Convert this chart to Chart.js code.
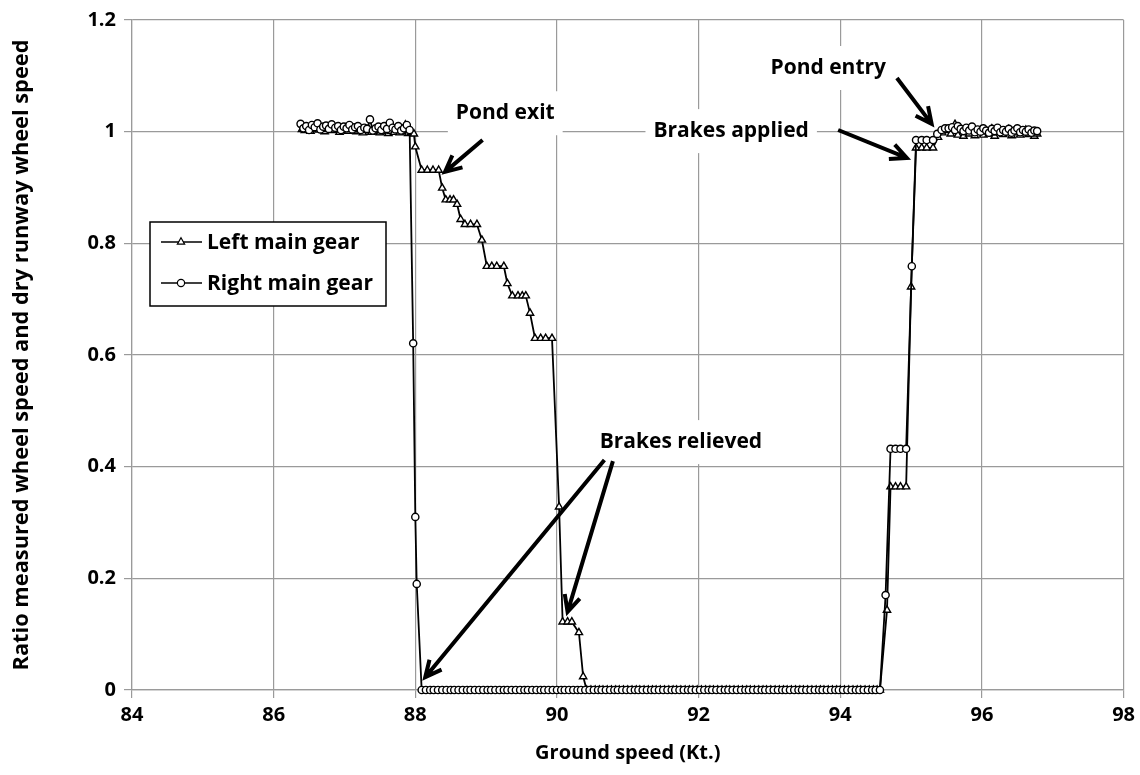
<!DOCTYPE html>
<html>
<head>
<meta charset="utf-8">
<script src="https://cdn.jsdelivr.net/npm/chart.js@4.4.1/dist/chart.umd.min.js"></script>
<style>
  html, body { margin: 0; padding: 0; background: #fff; }
</style>
</head>
<body>
<canvas id="myChart" width="1140" height="775"></canvas>
<script>
// ground speed (Kt.) and wheel speed ratio
const leftSpeed = [
  86.40, 86.44, 86.48, 86.52, 86.56, 86.60, 86.64, 86.68, 86.72, 86.76,
  86.80, 86.85, 86.89, 86.93, 86.97, 87.01, 87.05, 87.09, 87.13, 87.17,
  87.21, 87.26, 87.30, 87.34, 87.38, 87.42, 87.46, 87.50, 87.54, 87.58,
  87.62, 87.66, 87.70, 87.74, 87.78, 87.82, 87.86, 87.90, 87.94, 87.98,
  88.00, 88.09, 88.17, 88.25, 88.33, 88.38, 88.43, 88.49, 88.54, 88.59,
  88.64, 88.70, 88.78, 88.87, 88.94, 89.01, 89.08, 89.15, 89.25, 89.30,
  89.37, 89.45, 89.51, 89.56, 89.62, 89.69, 89.77, 89.84, 89.93, 90.03,
  90.08, 90.15, 90.21, 90.31, 90.37,
  90.42, 90.48, 90.54, 90.60, 90.65, 90.71, 90.77, 90.83, 90.88, 90.94,
  91.00, 91.06, 91.12, 91.17, 91.23, 91.29, 91.35, 91.40, 91.46, 91.52,
  91.58, 91.64, 91.69, 91.75, 91.81, 91.87, 91.92, 91.98, 92.04, 92.10,
  92.16, 92.21, 92.27, 92.33, 92.39, 92.44, 92.50, 92.56, 92.62, 92.68,
  92.73, 92.79, 92.85, 92.91, 92.96, 93.02, 93.08, 93.14, 93.20, 93.25,
  93.31, 93.37, 93.43, 93.48, 93.54, 93.60, 93.66, 93.72, 93.77, 93.83,
  93.89, 93.95, 94.00, 94.06, 94.12, 94.18, 94.24, 94.29, 94.35, 94.41,
  94.47, 94.52, 94.56,
  94.66, 94.71, 94.78, 94.85, 94.93, 95.00, 95.07, 95.15, 95.22, 95.31,
  95.38, 95.44, 95.50, 95.56, 95.62, 95.66, 95.70, 95.74, 95.78, 95.82,
  95.86, 95.90, 95.94, 95.98, 96.02, 96.06, 96.10, 96.14, 96.18, 96.22,
  96.26, 96.30, 96.34, 96.38, 96.42, 96.46, 96.50, 96.54, 96.58, 96.62,
  96.66, 96.70, 96.74, 96.78
];
const leftRatio = [
  1.004, 1.002, 1.007, 1.001, 1.005, 1.009, 1.003, 1.006, 1.000, 1.004,
  1.008, 1.002, 1.005, 0.999, 1.003, 1.007, 1.001, 1.004, 1.006, 1.000,
  1.003, 0.998, 1.002, 1.005, 0.999, 1.001, 1.004, 0.998, 1.000, 1.003,
  0.997, 1.001, 0.999, 1.004, 0.998, 1.000, 1.012, 0.997, 0.999, 0.996,
  0.973, 0.931, 0.931, 0.931, 0.931, 0.899, 0.878, 0.878, 0.878, 0.870,
  0.843, 0.834, 0.834, 0.834, 0.806, 0.759, 0.759, 0.759, 0.759, 0.728,
  0.706, 0.706, 0.706, 0.706, 0.675, 0.630, 0.630, 0.630, 0.630, 0.328,
  0.122, 0.122, 0.122, 0.103, 0.024,
  0, 0, 0, 0, 0, 0, 0, 0, 0, 0,
  0, 0, 0, 0, 0, 0, 0, 0, 0, 0,
  0, 0, 0, 0, 0, 0, 0, 0, 0, 0,
  0, 0, 0, 0, 0, 0, 0, 0, 0, 0,
  0, 0, 0, 0, 0, 0, 0, 0, 0, 0,
  0, 0, 0, 0, 0, 0, 0, 0, 0, 0,
  0, 0, 0, 0, 0, 0, 0, 0, 0, 0,
  0, 0, 0,
  0.143, 0.364, 0.364, 0.364, 0.364, 0.722, 0.971, 0.971, 0.971, 0.971,
  0.990, 0.998, 1.002, 0.996, 1.013, 0.994, 1.004, 0.992, 1.001, 0.996,
  1.006, 0.993, 0.999, 1.003, 0.994, 1.000, 0.996, 1.005, 0.992, 0.998,
  1.002, 0.995, 0.999, 1.004, 0.993, 0.998, 1.001, 0.994, 0.999, 1.003,
  0.995, 0.998, 0.992, 0.996
];

const rightSpeed = [
  86.38, 86.42, 86.46, 86.50, 86.54, 86.58, 86.62, 86.66, 86.70, 86.74,
  86.78, 86.82, 86.87, 86.91, 86.95, 86.99, 87.03, 87.07, 87.11, 87.15,
  87.19, 87.23, 87.28, 87.32, 87.36, 87.40, 87.44, 87.48, 87.52, 87.56,
  87.60, 87.64, 87.68, 87.72, 87.76, 87.80, 87.84, 87.88, 87.92,
  87.97, 88.00, 88.02,
  88.09, 88.15, 88.21, 88.26, 88.32, 88.38, 88.44, 88.50, 88.55, 88.61,
  88.67, 88.73, 88.78, 88.84, 88.90, 88.96, 89.02, 89.07, 89.13, 89.19,
  89.25, 89.30, 89.36, 89.42, 89.48, 89.54, 89.59, 89.65, 89.71, 89.77,
  89.82, 89.88, 89.94, 90.00, 90.06, 90.11, 90.17, 90.23, 90.29, 90.34,
  90.40, 90.46, 90.52, 90.58, 90.63, 90.69, 90.75, 90.81, 90.86, 90.92,
  90.98, 91.04, 91.10, 91.15, 91.21, 91.27, 91.33, 91.38, 91.44, 91.50,
  91.56, 91.62, 91.67, 91.73, 91.79, 91.85, 91.90, 91.96, 92.02, 92.08,
  92.14, 92.19, 92.25, 92.31, 92.37, 92.42, 92.48, 92.54, 92.60, 92.66,
  92.71, 92.77, 92.83, 92.89, 92.94, 93.00, 93.06, 93.12, 93.18, 93.23,
  93.29, 93.35, 93.41, 93.46, 93.52, 93.58, 93.64, 93.70, 93.75, 93.81,
  93.87, 93.93, 93.98, 94.04, 94.10, 94.16, 94.22, 94.27, 94.33, 94.39,
  94.45, 94.50, 94.56,
  94.64, 94.71, 94.78, 94.85, 94.93, 95.01, 95.07, 95.15, 95.22, 95.31,
  95.37, 95.43, 95.48, 95.53, 95.58, 95.62, 95.66, 95.70, 95.74, 95.78,
  95.82, 95.86, 95.90, 95.94, 95.98, 96.02, 96.06, 96.10, 96.14, 96.18,
  96.22, 96.26, 96.30, 96.34, 96.38, 96.42, 96.46, 96.50, 96.54, 96.58,
  96.62, 96.66, 96.70, 96.74, 96.78
];
const rightRatio = [
  1.014, 1.006, 1.010, 1.003, 1.012, 1.008, 1.015, 1.004, 1.009, 1.011,
  1.005, 1.013, 1.007, 1.010, 1.003, 1.009, 1.006, 1.012, 1.004, 1.008,
  1.010, 1.003, 1.007, 1.005, 1.022, 1.002, 1.006, 1.009, 1.003, 1.010,
  1.005, 1.016, 1.007, 1.004, 1.010, 1.002, 1.006, 1.012, 1.003,
  0.621, 0.310, 0.190,
  0, 0, 0, 0, 0, 0, 0, 0, 0, 0,
  0, 0, 0, 0, 0, 0, 0, 0, 0, 0,
  0, 0, 0, 0, 0, 0, 0, 0, 0, 0,
  0, 0, 0, 0, 0, 0, 0, 0, 0, 0,
  0, 0, 0, 0, 0, 0, 0, 0, 0, 0,
  0, 0, 0, 0, 0, 0, 0, 0, 0, 0,
  0, 0, 0, 0, 0, 0, 0, 0, 0, 0,
  0, 0, 0, 0, 0, 0, 0, 0, 0, 0,
  0, 0, 0, 0, 0, 0, 0, 0, 0, 0,
  0, 0, 0, 0, 0, 0, 0, 0, 0, 0,
  0, 0, 0, 0, 0, 0, 0, 0, 0, 0,
  0, 0, 0,
  0.170, 0.432, 0.432, 0.432, 0.432, 0.759, 0.985, 0.985, 0.985, 0.985,
  0.996, 1.003, 1.006, 1.006, 1.008, 1.003, 1.010, 1.005, 1.001, 1.007,
  1.002, 1.009, 0.999, 1.004, 1.000, 1.006, 1.002, 0.998, 1.005, 1.001,
  1.007, 0.999, 1.003, 1.000, 1.005, 0.998, 1.002, 1.006, 0.999, 1.003,
  1.000, 1.004, 0.998, 1.002, 1.001
];

const seriesNames = ["Left main gear", "Right main gear"];
const xTicks = [84, 86, 88, 90, 92, 94, 96, 98];
const yTicks = [0, 0.2, 0.4, 0.6, 0.8, 1, 1.2];

// callouts, anchored in data units
const noteText = ["Pond exit", "Brakes applied", "Pond entry", "Brakes relieved"];
const noteX = [89.27, 92.46, 93.83, 91.75];
const noteY = [1.033, 1.001, 1.114, 0.444];
const arrowFromX = [88.95, 93.97, 94.80, 90.67, 90.79];
const arrowFromY = [0.985, 1.003, 1.096, 0.412, 0.410];
const arrowToX = [88.42, 94.94, 95.29, 88.14, 90.15];
const arrowToY = [0.928, 0.953, 1.014, 0.023, 0.140];

const FONT = "'Open Sans'";

function drawArrow(ctx, x1, y1, x2, y2) {
  const a = Math.atan2(y2 - y1, x2 - x1);
  const head = 18;
  ctx.beginPath();
  ctx.moveTo(x1, y1);
  ctx.lineTo(x2, y2);
  ctx.moveTo(x2 - head * Math.cos(a - 0.45), y2 - head * Math.sin(a - 0.45));
  ctx.lineTo(x2, y2);
  ctx.lineTo(x2 - head * Math.cos(a + 0.45), y2 - head * Math.sin(a + 0.45));
  ctx.stroke();
}

const notesPlugin = {
  id: "notes",
  afterDatasetsDraw(chart) {
    const ctx = chart.ctx;
    const xs = chart.scales.x;
    const ys = chart.scales.y;
    const area = chart.chartArea;
    ctx.save();
    ctx.font = "bold 21px " + FONT;
    ctx.textAlign = "center";
    ctx.textBaseline = "middle";
    noteText.forEach((t, i) => {
      const px = xs.getPixelForValue(noteX[i]);
      const py = ys.getPixelForValue(noteY[i]);
      const w = ctx.measureText(t).width;
      ctx.fillStyle = "#fff";
      ctx.fillRect(px - w / 2 - 8, py - 22, w + 16, 44);
      ctx.fillStyle = "#000";
      ctx.fillText(t, px, py);
    });
    ctx.strokeStyle = "#000";
    ctx.lineWidth = 4;
    ctx.lineCap = "butt";
    ctx.lineJoin = "miter";
    arrowFromX.forEach((v, i) => {
      drawArrow(ctx,
        xs.getPixelForValue(v), ys.getPixelForValue(arrowFromY[i]),
        xs.getPixelForValue(arrowToX[i]), ys.getPixelForValue(arrowToY[i]));
    });

    // legend box inside plot
    const lx = area.left + 18;
    const ly = area.top + 202;
    const lw = 236;
    const lh = 84;
    ctx.fillStyle = "#fff";
    ctx.fillRect(lx, ly, lw, lh);
    ctx.strokeStyle = "#000";
    ctx.lineWidth = 1.5;
    ctx.strokeRect(lx, ly, lw, lh);
    ctx.textAlign = "left";
    ctx.font = "bold 21px " + FONT;
    seriesNames.forEach((name, i) => {
      const cy = ly + 20 + i * 41;
      ctx.strokeStyle = "#000";
      ctx.lineWidth = 1.6;
      ctx.beginPath();
      ctx.moveTo(lx + 11, cy);
      ctx.lineTo(lx + 52, cy);
      ctx.stroke();
      const ds = chart.data.datasets[i];
      ctx.fillStyle = "#fff";
      ctx.lineWidth = 1.2;
      Chart.helpers.drawPoint(ctx, {
        pointStyle: ds.pointStyle,
        radius: ds.pointRadius,
        borderWidth: 1.2,
      }, lx + 31, cy);
      ctx.fillStyle = "#000";
      ctx.fillText(name, lx + 57, cy + 1);
    });
    ctx.restore();
  },
};

function pairs(xsArr, ysArr) {
  return xsArr.map((x, i) => ({ x: x, y: ysArr[i] }));
}

const ctx = document.getElementById("myChart").getContext("2d");
const myChart = new Chart(ctx, {
  type: "line",
  data: {
    datasets: [
      {
        label: seriesNames[0],
        data: pairs(leftSpeed, leftRatio),
        borderColor: "#000",
        borderWidth: 1.8,
        pointStyle: "triangle",
        pointRadius: 4.2,
        pointBorderWidth: 1.4,
        pointBackgroundColor: "#fff",
        pointBorderColor: "#000",
        tension: 0,
        clip: 10,
        order: 2,
      },
      {
        label: seriesNames[1],
        data: pairs(rightSpeed, rightRatio),
        borderColor: "#000",
        borderWidth: 1.8,
        pointStyle: "circle",
        pointRadius: 3.6,
        pointBorderWidth: 1.4,
        pointBackgroundColor: "#fff",
        pointBorderColor: "#000",
        tension: 0,
        clip: 10,
        order: 1,
      },
    ],
  },
  options: {
    responsive: false,
    animation: false,
    parsing: false,
    layout: { padding: { left: 9, right: 16, top: 20, bottom: 10 } },
    plugins: {
      legend: { display: false },
      tooltip: { enabled: false },
    },
    scales: {
      x: {
        type: "linear",
        min: xTicks[0],
        max: xTicks[xTicks.length - 1],
        afterBuildTicks: (scale) => {
          scale.ticks = xTicks.map((v) => ({ value: v }));
        },
        afterFit: (scale) => {
          scale.height = 75;
        },
        grid: { color: "#9a9a9a", lineWidth: 1.2, tickLength: 8 },
        border: { color: "#9a9a9a", width: 1.2 },
        ticks: {
          color: "#000",
          padding: 5,
          font: { family: FONT, size: 20, weight: "bold" },
        },
        title: {
          display: true,
          text: "Ground speed (Kt.)",
          color: "#000",
          padding: { top: 4, bottom: 0 },
          font: { family: FONT, size: 20, weight: "bold" },
        },
      },
      y: {
        type: "linear",
        min: yTicks[0],
        max: yTicks[yTicks.length - 1],
        afterBuildTicks: (scale) => {
          scale.ticks = yTicks.map((v) => ({ value: v }));
        },
        afterFit: (scale) => {
          scale.width = 123;
        },
        grid: { color: "#9a9a9a", lineWidth: 1.2, tickLength: 8 },
        border: { color: "#9a9a9a", width: 1.2 },
        ticks: {
          color: "#000",
          padding: 8,
          font: { family: FONT, size: 20, weight: "bold" },
          callback: (v) => String(+v.toFixed(1)),
        },
        title: {
          display: true,
          text: "Ratio measured wheel speed and dry runway wheel speed",
          color: "#000",
          padding: { top: 0, bottom: 4 },
          font: { family: FONT, size: 21.8, weight: "bold" },
        },
      },
    },
  },
  plugins: [notesPlugin],
});
</script>
</body>
</html>
